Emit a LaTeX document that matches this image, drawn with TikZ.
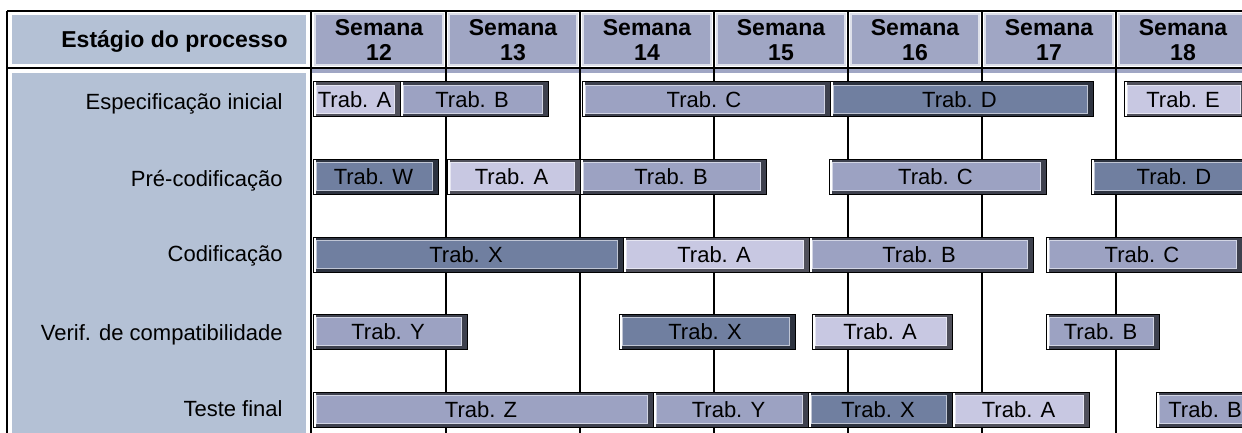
\documentclass[tikz,border=0pt]{standalone}
\usepackage{fontspec}
\setmainfont{Liberation Sans}
\usepackage{xcolor}
\definecolor{painel}{RGB}{180,193,213}
\definecolor{cabec}{RGB}{160,166,196}
\definecolor{escuro}{RGB}{112,127,160}
\definecolor{medio}{RGB}{156,162,194}
\definecolor{claro}{RGB}{200,200,226}
\tikzset{
  rotulo/.style={font=\fontsize{11}{13}\selectfont, anchor=base east, inner sep=0pt},
  trab/.style={font=\fontsize{11}{13}\selectfont, inner sep=0pt},
  semana/.style={font=\fontsize{11.5}{10.5}\selectfont\bfseries, align=center, inner sep=0pt}
}

\begin{document}
\begin{tikzpicture}[x=0.5pt, y=-0.5pt]
	\useasboundingbox (0,0) rectangle (1242,433);
	\clip (0,0) rectangle (1242,433);
	\def\w{134}
	% painel da esquerda
	\filldraw[fill=painel, draw=white, line width=0.6pt] (11,14) rectangle (307,65);
	\filldraw[fill=painel, draw=white, line width=0.6pt] (11,72) rectangle (307,440);
	\node[semana, anchor=base east] (estagio) at (288,48) {Estágio do processo};
	% semanas
	\fill[cabec] (311,68) rectangle (1250,73);
	\foreach \s [count=\k from 0] in {12,...,18} {
		\filldraw[fill=cabec, draw=white!65!cabec, line width=0.6pt] (312+\w*\k+3,14) rectangle (312+\w*\k+\w-3,65);
		\node[semana] (sem\s) at (312+\w*\k+\w/2,40) {Semana\\[2pt]\s};
	}
	% grade
	\draw[line width=0.6pt] (7,11) -- (1250,11);
	\draw[line width=0.6pt] (7,68) -- (1250,68);
	\draw[line width=0.6pt] (7,11) -- (7,440);
	\draw[line width=0.6pt] (311,11) -- (311,440);
	\foreach \k in {1,...,6}
		\draw[line width=0.6pt] (312+\w*\k,11) -- (312+\w*\k,440);
	\draw[line width=1.4pt] (1116,68) -- (1250,68);
	\draw[line width=1.2pt] (1180,11) -- (1250,11);
	% estagios
	\foreach \txt/\yb [count=\r] in {Especificação inicial/110, Pré-codificação/186, Codificação/261, Verif. de compatibilidade/340, Teste final/416}
		\node[rotulo] (linha\r) at (283,\yb) {\txt};
	% trabalhos
	\foreach \xa/\xb/\r/\cor/\txt [count=\i] in {
		313/400/1/claro/Trab. A, 400/548/1/medio/Trab. B, 582/830/1/medio/Trab. C, 830/1093/1/escuro/Trab. D, 1124/1246/1/claro/Trab. E,
		313/438/2/escuro/Trab. W, 447/580/2/claro/Trab. A, 580/766/2/medio/Trab. B, 829/1046/2/medio/Trab. C, 1091/1261/2/escuro/Trab. D,
		313/623/3/escuro/Trab. X, 623/809/3/claro/Trab. A, 809/1033/3/medio/Trab. B, 1046/1242/3/medio/Trab. C,
		313/467/4/medio/Trab. Y, 619/795/4/escuro/Trab. X, 812/952/4/claro/Trab. A, 1046/1159/4/medio/Trab. B,
		313/653/5/medio/Trab. Z, 653/808/5/medio/Trab. Y, 808/952/5/escuro/Trab. X, 952/1089/5/claro/Trab. A, 1156/1258/5/medio/Trab. B} {
		\pgfmathsetmacro\yt{4.5+77.5*\r}
		\fill[\cor!40!black] (\xa,\yt) rectangle (\xb,\yt+35);
		\fill[white] (\xa,\yt) rectangle (\xa+3,\yt+35);
		\filldraw[fill=\cor, draw=white!55!\cor, line width=0.4pt] (\xa+3,\yt+3) rectangle (\xb-6,\yt+31);
		\draw[line width=0.5pt] (\xa,\yt) rectangle (\xb,\yt+35);
		\node[trab] (trab\i) at ({(\xa+\xb)/2-2},\yt+17.5) {\txt};
	}
\end{tikzpicture}
\end{document}
